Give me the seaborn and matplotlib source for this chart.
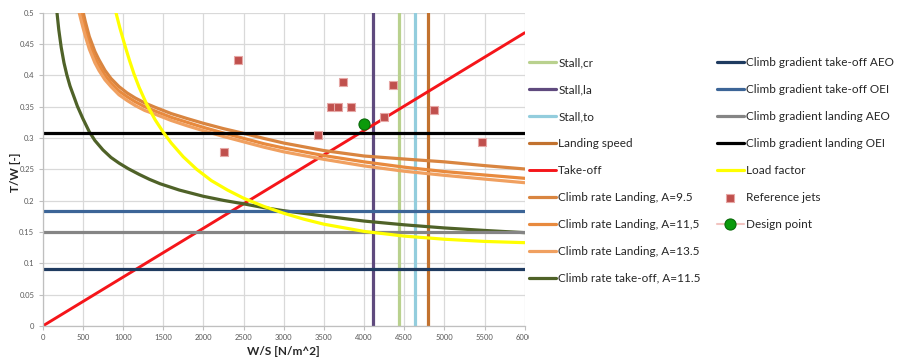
import matplotlib
matplotlib.use("Agg")
import matplotlib.pyplot as plt
import pandas as pd
import seaborn as sns
from matplotlib.transforms import Bbox, TransformedBbox, IdentityTransform

# --- constraint data -------------------------------------------------------
# stall / landing speed limits (fixed wing loading, N/m^2)
stall_cr_ws = 4430
stall_la_ws = 4110
stall_to_ws = 4630
landing_speed_ws = 4795

# climb gradient requirements (fixed thrust-to-weight)
grad_to_aeo = 0.0905
grad_to_oei = 0.1835
grad_la_aeo = 0.1505
grad_la_oei = 0.308

# take-off field length line
takeoff_ws = [0, 6000]
takeoff_tw = [0, 0.468]

# climb rate, landing configuration, three aspect ratios
climb_la_95_ws = [505, 530, 580, 650, 700, 775, 850, 950, 1050, 1150, 1270, 1400, 1600, 1800,
                  2000, 2250, 2500, 2750, 3000, 3500, 4000, 4500, 5000, 5500, 6000]
climb_la_95_tw = [0.5, 0.486, 0.462, 0.438, 0.425, 0.408, 0.395, 0.382, 0.372, 0.364, 0.356, 0.349,
                  0.339, 0.331, 0.3235, 0.315, 0.3075, 0.2995, 0.292, 0.280, 0.2713, 0.2665,
                  0.262, 0.256, 0.2506]
climb_la_115_ws = [478, 500, 530, 580, 650, 700, 775, 850, 950, 1050, 1150, 1270, 1400, 1600, 1800,
                   2000, 2250, 2500, 2750, 3000, 3500, 4000, 4500, 5000, 5500, 6000]
climb_la_115_tw = [0.5, 0.488, 0.472, 0.45, 0.428, 0.416, 0.40, 0.388, 0.375, 0.366, 0.358, 0.35,
                   0.343, 0.333, 0.325, 0.317, 0.308, 0.2995, 0.291, 0.284, 0.272, 0.262, 0.2535,
                   0.2465, 0.241, 0.2357]
climb_la_135_ws = [455, 478, 500, 530, 580, 650, 700, 775, 850, 950, 1050, 1150, 1270, 1400, 1600,
                   1800, 2000, 2250, 2500, 2750, 3000, 3500, 4000, 4500, 5000, 5500, 6000]
climb_la_135_tw = [0.5, 0.488, 0.477, 0.463, 0.442, 0.420, 0.408, 0.393, 0.382, 0.369, 0.360, 0.352,
                   0.344, 0.338, 0.328, 0.3195, 0.3117, 0.3025, 0.294, 0.2855, 0.278, 0.266, 0.2555,
                   0.247, 0.2405, 0.2345, 0.2287]

# climb rate, take-off configuration
climb_to_ws = [178, 200, 230, 265, 300, 340, 400, 431, 500, 580, 650, 750, 850, 950, 1066, 1200,
               1330, 1462, 1700, 2000, 2250, 2500, 2750, 3000, 3500, 4000, 4500, 5000, 5500, 6000]
climb_to_tw = [0.5, 0.473, 0.445, 0.420, 0.401, 0.383, 0.362, 0.351, 0.331, 0.310, 0.296, 0.281,
               0.269, 0.260, 0.251, 0.242, 0.234, 0.227, 0.217, 0.207, 0.2005, 0.195, 0.189, 0.184,
               0.1755, 0.1675, 0.1615, 0.1565, 0.1525, 0.149]

# manoeuvre load factor
load_ws = [912, 960, 1025, 1080, 1137, 1200, 1294, 1400, 1502, 1600, 1750, 1917, 2100, 2300, 2500,
           2750, 3000, 3250, 3500, 4000, 4500, 5000, 5500, 6000]
load_tw = [0.5, 0.476, 0.447, 0.424, 0.402, 0.381, 0.354, 0.329, 0.309, 0.292, 0.270, 0.250, 0.232,
           0.217, 0.204, 0.191, 0.180, 0.1705, 0.1625, 0.151, 0.1435, 0.1385, 0.135, 0.133]

# existing aircraft
ref_ws = [2258, 2432, 3428, 3585, 3672, 3743, 3834, 4249, 4365, 4871, 5465]
ref_tw = [0.278, 0.425, 0.305, 0.349, 0.350, 0.389, 0.350, 0.333, 0.384, 0.344, 0.293]

design_ws = [4000]
design_tw = [0.323]

# --- styling -----------------------------------------------------------------
sns.set_theme(style="whitegrid")
plt.rcParams["font.family"] = ["Lato", "DejaVu Sans"]

fig = plt.figure(figsize=(8.97, 3.6), dpi=100)
ax = fig.add_axes([0.0476, 0.0944, 0.5374, 0.8703])
ax.set_facecolor("white")

LW = 2.3
handles = {}

handles["Stall,cr"] = ax.axvline(stall_cr_ws, color="#B9D18E", lw=LW, label="Stall,cr")
handles["Stall,la"] = ax.axvline(stall_la_ws, color="#5F4A7E", lw=LW, label="Stall,la")
handles["Stall,to"] = ax.axvline(stall_to_ws, color="#93CDDD", lw=LW, label="Stall,to")
handles["Landing speed"] = ax.axvline(landing_speed_ws, color="#C2722F", lw=LW, label="Landing speed")


def curve(xs, ys, color, label, lw=LW):
    df = pd.DataFrame({"ws": xs, "tw": ys})
    sns.lineplot(data=df, x="ws", y="tw", ax=ax, color=color, lw=lw, label=label, legend=False)
    line = ax.lines[-1]
    line.set_solid_joinstyle("round")
    return line


handles["Take-off"] = curve(takeoff_ws, takeoff_tw, "#F5151A", "Take-off", lw=2.1)
handles["Climb rate Landing, A=9.5"] = curve(climb_la_95_ws, climb_la_95_tw, "#D98540", "Climb rate Landing, A=9.5")
handles["Climb rate Landing, A=11,5"] = curve(climb_la_115_ws, climb_la_115_tw, "#E88A3E", "Climb rate Landing, A=11,5")
handles["Climb rate Landing, A=13.5"] = curve(climb_la_135_ws, climb_la_135_tw, "#F0A060", "Climb rate Landing, A=13.5")
handles["Climb rate take-off, A=11.5"] = curve(climb_to_ws, climb_to_tw, "#4F6228", "Climb rate take-off, A=11.5")

handles["Climb gradient take-off AEO"] = ax.axhline(grad_to_aeo, color="#1F3B60", lw=LW, label="Climb gradient take-off AEO")
handles["Climb gradient take-off OEI"] = ax.axhline(grad_to_oei, color="#3C6597", lw=LW, label="Climb gradient take-off OEI")
handles["Climb gradient landing AEO"] = ax.axhline(grad_la_aeo, color="#858585", lw=LW, label="Climb gradient landing AEO")
handles["Climb gradient landing OEI"] = ax.axhline(grad_la_oei, color="#000000", lw=LW, label="Climb gradient landing OEI")
handles["Load factor"] = curve(load_ws, load_tw, "#FFFF00", "Load factor")

sns.scatterplot(x=ref_ws, y=ref_tw, ax=ax, marker="s", s=26, color="#C0504D",
                edgecolor="#E6A8A6", linewidth=0.8, zorder=5, legend=False)
handles["Reference jets"] = ax.collections[-1]

# design point: drawn with a faint line style so the legend key shows it
handles["Design point"], = ax.plot(design_ws, design_tw, ls="-", color="#F2C4C0", lw=1.5,
                                   marker="o", ms=8, mfc="#0B9A0B", mec="#0A6A0A", mew=0.8, zorder=6)

# --- axes --------------------------------------------------------------------
ax.set_xlim(0, 6000)
ax.set_ylim(0, 0.5)
ax.set_xticks(range(0, 6001, 500))
ax.set_yticks([i * 0.05 for i in range(11)])
ax.set_yticklabels(["0", "0.05", "0.1", "0.15", "0.2", "0.25", "0.3", "0.35", "0.4", "0.45", "0.5"])
ax.grid(True, color="#D9D9D9", lw=0.9)
ax.tick_params(axis="both", labelsize=5.5, labelcolor="#595959", colors="#BFBFBF",
               length=3, width=0.8, pad=3, direction="out", left=True, bottom=True)
for lab in ax.get_xticklabels() + ax.get_yticklabels():
    lab.set_color("#595959")
for side in ["top", "right"]:
    ax.spines[side].set_visible(False)
for side in ["left", "bottom"]:
    ax.spines[side].set_color("#BFBFBF")
    ax.spines[side].set_linewidth(0.9)

ax.set_xlabel("W/S [N/m^2]", fontsize=8.5, fontweight="bold", labelpad=3)
ax.set_ylabel("T/W [-]", fontsize=8.5, fontweight="bold")
ax.yaxis.set_label_coords(-0.046, 0.49)

# --- legends -----------------------------------------------------------------
col1 = ["Stall,cr", "Stall,la", "Stall,to", "Landing speed", "Take-off",
        "Climb rate Landing, A=9.5", "Climb rate Landing, A=11,5",
        "Climb rate Landing, A=13.5", "Climb rate take-off, A=11.5"]
col2 = ["Climb gradient take-off AEO", "Climb gradient take-off OEI",
        "Climb gradient landing AEO", "Climb gradient landing OEI",
        "Load factor", "Reference jets", "Design point"]

leg_kw = dict(loc="upper left", frameon=False, fontsize=8.5, handlelength=2.3,
              handletextpad=0.17, labelspacing=1.35, borderpad=0, borderaxespad=0)
fig.legend([handles[k] for k in col1], col1, bbox_to_anchor=(0.5897, 0.841), **leg_kw)
fig.legend([handles[k] for k in col2], col2, bbox_to_anchor=(0.799, 0.841), **leg_kw)

# the last x tick label runs under the legend area and is cut there
fig.canvas.draw()
last = ax.xaxis.get_major_ticks()[-1].label1
last.set_clip_on(True)
last.set_clip_box(TransformedBbox(Bbox([[0, 0], [529, 360]]), IdentityTransform()))

fig.savefig("out.png", dpi=100)
